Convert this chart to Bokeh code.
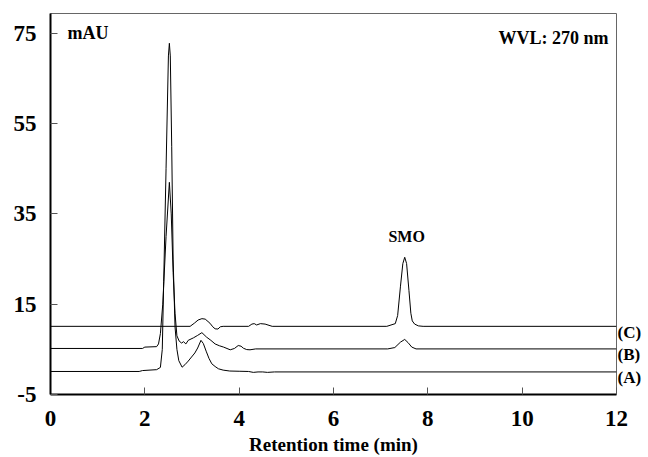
from bokeh.plotting import figure
from bokeh.models import Range1d, FixedTicker, Label, LinearAxis
from bokeh.embed import file_html
from bokeh.resources import INLINE

# ---- data ----
time_a = [0.0, 1.88, 1.95, 2.25, 2.33, 2.37, 2.40, 2.45, 2.50, 2.52, 2.54, 2.57, 2.60, 2.64, 2.68,
          2.72, 2.79, 2.85, 2.92, 2.99, 3.06, 3.12, 3.19, 3.24, 3.30, 3.36, 3.42, 3.49, 3.56, 3.66,
          3.80, 4.0, 4.2, 4.3, 4.4, 4.5, 4.6, 4.75, 12.0]
abs_a = [0.1, 0.1, 0.3, 0.5, 1.0, 5.0, 20.0, 45.0, 70.0, 72.8, 70.0, 50.0, 25.0, 10.0, 5.0,
         2.5, 1.05, 1.6, 2.4, 3.3, 4.2, 5.3, 7.0, 6.3, 4.6, 3.0, 1.8, 1.2, 0.7, 0.4,
         0.2, 0.15, 0.1, -0.1, 0.0, 0.0, -0.1, 0.0, 0.0]

time_b = [0.0, 1.95, 2.0, 2.25, 2.29, 2.33, 2.38, 2.45, 2.52, 2.56, 2.60, 2.64, 2.68, 2.73,
          2.78, 2.82, 2.87, 2.92, 3.03, 3.12, 3.21, 3.31, 3.40, 3.49, 3.58, 3.67, 3.81, 3.90,
          3.98, 4.04, 4.09, 4.16, 4.23, 4.35, 7.15, 7.30, 7.42, 7.51, 7.58, 7.66, 7.75, 12.0]
abs_b = [5.2, 5.2, 5.5, 5.6, 6.2, 8.5, 15.0, 30.0, 42.0, 35.0, 22.0, 13.0, 8.0, 6.8,
         6.4, 6.7, 6.2, 7.0, 7.55, 8.1, 8.7, 7.7, 7.0, 6.2, 5.8, 5.5, 4.9, 5.2,
         5.85, 5.7, 5.25, 4.95, 4.9, 5.1, 5.1, 5.4, 6.6, 7.2, 6.5, 5.5, 5.1, 5.1]

time_c = [0.0, 2.96, 3.05, 3.13, 3.21, 3.28, 3.38, 3.44, 3.49, 3.55, 3.60, 3.66, 4.20, 4.27,
          4.32, 4.37, 4.45, 4.55, 4.70, 7.13, 7.31, 7.36, 7.42, 7.47, 7.51, 7.55, 7.60, 7.64,
          7.67, 7.72, 7.80, 7.90, 12.0]
abs_c = [10.1, 10.1, 10.8, 11.5, 11.8, 11.7, 10.8, 10.0, 9.55, 9.5, 10.0, 10.1, 10.1, 10.6,
         10.7, 10.4, 10.7, 10.6, 10.1, 10.1, 10.7, 12.5, 19.0, 24.0, 25.4, 24.0, 18.0, 13.0,
         11.3, 10.6, 10.2, 10.1, 10.1]

trace_names = ["(A)", "(B)", "(C)"]
trace_baselines = [0.1, 5.2, 10.1]

x_ticks = [0, 2, 4, 6, 8, 10, 12]
y_ticks = [-5, 15, 35, 55, 75]

FONT = "Liberation Serif"

p = figure(width=648, height=457, output_backend="svg", toolbar_location=None,
           x_range=Range1d(0, 12), y_range=Range1d(-5, 79.4),
           min_border_left=50, min_border_right=32, min_border_top=13, min_border_bottom=63)
p.xgrid.visible = False
p.ygrid.visible = False
p.background_fill_color = "white"
p.border_fill_color = "white"
p.outline_line_color = "#666666"
p.outline_line_width = 1

p.xaxis.ticker = FixedTicker(ticks=x_ticks)
p.yaxis.ticker = FixedTicker(ticks=y_ticks)
p.yaxis.major_label_overrides = {t: str(t) for t in y_ticks}
p.xaxis.major_label_overrides = {t: str(t) for t in x_ticks}

for ax in (p.xaxis, p.yaxis):
    ax.axis_line_color = "black"
    ax.axis_line_width = 2
    ax.major_tick_in = 7
    ax.major_tick_out = 0
    ax.major_tick_line_color = "#555555"
    ax.major_tick_line_width = 1
    ax.minor_tick_line_color = None
    ax.major_label_text_font = FONT
    ax.major_label_text_font_style = "bold"
    ax.major_label_text_font_size = "23px"
    ax.major_label_text_color = "black"

p.yaxis.major_label_standoff = 14
p.xaxis.major_label_standoff = 16
p.xaxis.axis_label = "Retention time (min)"
p.xaxis.axis_label_text_font = FONT
p.xaxis.axis_label_text_font_style = "bold"
p.xaxis.axis_label_text_font_size = "19px"
p.xaxis.axis_label_text_color = "black"
p.xaxis.axis_label_standoff = 5

for t, a in ((time_a, abs_a), (time_b, abs_b), (time_c, abs_c)):
    p.line(t, a, line_color="black", line_width=1)

# trace names on the right, drawn as a right-hand axis slightly below each baseline
label_pos = [b - 1.3 for b in trace_baselines]
right_axis = LinearAxis(ticker=FixedTicker(ticks=label_pos),
                        major_label_overrides={lp: n for lp, n in zip(label_pos, trace_names)},
                        axis_line_color=None, major_tick_line_color=None,
                        major_tick_in=0, major_tick_out=0,
                        minor_tick_line_color=None, minor_tick_in=0, minor_tick_out=0,
                        major_label_standoff=1,
                        major_label_text_font=FONT, major_label_text_font_style="bold",
                        major_label_text_font_size="17px", major_label_text_color="black")
p.add_layout(right_axis, "right")

p.add_layout(Label(x=0, y=75, x_offset=17, text="mAU", text_font=FONT,
                   text_font_style="bold", text_font_size="18px",
                   text_baseline="middle", text_align="left", text_color="black"))
p.add_layout(Label(x=12, y=75, x_offset=-8, y_offset=-5, text="WVL: 270 nm", text_font=FONT,
                   text_font_style="bold", text_font_size="18px",
                   text_baseline="middle", text_align="right", text_color="black"))
p.add_layout(Label(x=7.55, y=30, text="SMO", text_font=FONT,
                   text_font_style="bold", text_font_size="16px",
                   text_baseline="middle", text_align="center", text_color="black"))

open("out.html", "w").write(file_html(p, INLINE))
